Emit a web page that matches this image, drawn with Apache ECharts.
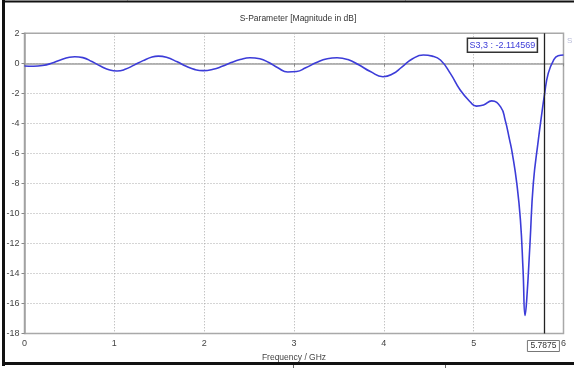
<!DOCTYPE html>
<html><head><meta charset="utf-8">
<script src="https://cdn.jsdelivr.net/npm/echarts@6/dist/echarts.min.js"></script>
<style>html,body{margin:0;padding:0;background:#fff;}#c{width:574px;height:368px;}</style>
</head><body><div id="c"></div>
<script>
// ---- data ----
const chartTitle = 'S-Parameter [Magnitude in dB]';
const xName = 'Frequency / GHz';
const seriesName = 'S3,3';
const freqGHz = [0.00,0.10,0.20,0.30,0.40,0.50,0.56,0.65,0.75,0.85,0.95,1.03,1.12,1.22,1.32,1.42,1.49,1.58,1.70,1.80,1.90,1.99,2.10,2.20,2.30,2.40,2.51,2.62,2.72,2.82,2.93,3.03,3.13,3.25,3.37,3.48,3.60,3.72,3.85,3.99,4.10,4.20,4.32,4.44,4.54,4.63,4.74,4.85,4.96,5.03,5.11,5.20,5.30,5.35,5.40,5.43,5.48,5.52,5.55,5.572,5.59,5.627,5.664,5.72,5.755,5.7875,5.83,5.89,5.94,6.00];
const s33dB   = [-0.18,-0.20,-0.15,0.00,0.22,0.40,0.44,0.38,0.12,-0.20,-0.45,-0.51,-0.40,-0.12,0.18,0.42,0.48,0.40,0.10,-0.20,-0.42,-0.49,-0.40,-0.20,0.05,0.25,0.37,0.30,0.05,-0.30,-0.58,-0.55,-0.30,0.05,0.30,0.37,0.25,-0.10,-0.55,-0.89,-0.70,-0.25,0.30,0.55,0.48,0.22,-0.67,-1.78,-2.56,-2.85,-2.78,-2.50,-2.90,-3.77,-5.10,-6.00,-8.00,-10.40,-13.80,-16.80,-15.80,-12.00,-8.00,-5.10,-3.50,-2.114569,-0.67,0.22,0.50,0.55];
const markerFreq = 5.7875;
const markerValue = -2.114569;
const xTicks = [0,1,2,3,4,5,6];
const yTicks = [2,0,-2,-4,-6,-8,-10,-12,-14,-16,-18];

const chart = echarts.init(document.getElementById('c'), null, {renderer:'canvas'});
const font = 'Liberation Sans';
const data = freqGHz.map((f,i)=>[f, s33dB[i]]);
chart.setOption({
  animation:false,
  backgroundColor:'#fff',
  title:{text:chartTitle,left:293,top:9,textAlign:'center',
    textStyle:{fontFamily:font,fontSize:8.5,fontWeight:'normal',color:'#333'}},
  grid:{left:24.5,right:10.5,top:33.3,bottom:34.5,show:true,borderColor:'#a8a8a8',borderWidth:1.5,backgroundColor:'transparent'},
  xAxis:{type:'value',min:xTicks[0],max:xTicks[xTicks.length-1],interval:1,
    name:xName,nameLocation:'middle',nameGap:20,
    nameTextStyle:{fontFamily:font,fontSize:8.5,color:'#444'},
    axisLine:{lineStyle:{color:'#a0a0a0',width:1.5}},
    axisTick:{show:true,length:3,lineStyle:{color:'#888'}},
    axisLabel:{fontFamily:font,fontSize:9,color:'#444',margin:6},
    splitLine:{show:true,lineStyle:{color:'#aaa',type:[1,2],width:1}}},
  yAxis:{type:'value',min:yTicks[yTicks.length-1],max:yTicks[0],interval:2,
    axisLine:{show:true,lineStyle:{color:'#a0a0a0',width:1.5}},
    axisTick:{show:true,length:3,lineStyle:{color:'#888'}},
    axisLabel:{fontFamily:font,fontSize:9,color:'#444',margin:5},
    splitLine:{show:true,lineStyle:{color:'#aaa',type:[1,2],width:1}}},
  series:[{name:seriesName,type:'line',data:data,showSymbol:false,smooth:0.5,
    lineStyle:{color:'#3c3cd8',width:1.6},
    markLine:{silent:true,symbol:'none',label:{show:false},
      lineStyle:{color:'#222',width:1.3,type:'solid'},
      data:[{xAxis:markerFreq}]}}]
});

const pTop = chart.convertToPixel({gridIndex:0},[markerFreq, yTicks[0]]);
const pBot = chart.convertToPixel({gridIndex:0},[markerFreq, yTicks[yTicks.length-1]]);
chart.setOption({graphic:[
  // frame
  {type:'rect',shape:{x:2,y:0,width:3,height:366},style:{fill:'#111'}},
  {type:'rect',shape:{x:2,y:0.5,width:572,height:2},style:{fill:'#111'}},
  {type:'rect',shape:{x:2,y:362,width:572,height:3},style:{fill:'#111'}},
  {type:'rect',shape:{x:127,y:0,width:1,height:1},style:{fill:'#666'}},
  {type:'rect',shape:{x:405,y:0,width:1,height:1},style:{fill:'#666'}},
  {type:'rect',shape:{x:293,y:365,width:1,height:3},style:{fill:'#666'}},
  {type:'rect',shape:{x:445,y:365,width:1,height:3},style:{fill:'#666'}},
  {type:'text',left:567,top:37,style:{text:'S',fill:'#b8bcd8',font:'8px '+font}},
  // marker value box
  {type:'rect',shape:{x:pTop[0]-77,y:pTop[1]+5,width:70,height:14},
    style:{fill:'#fff',stroke:'#333',lineWidth:1.5}},
  {type:'text',x:pTop[0]-42,y:pTop[1]+12,style:{text:seriesName+' : '+markerValue,
    fill:'#3c3cd8',font:'9px '+font,textAlign:'center',textVerticalAlign:'middle'}},
  // marker x box
  {type:'rect',shape:{x:pBot[0]-17,y:pBot[1]+7,width:32,height:11},
    style:{fill:'#fff',stroke:'#777',lineWidth:1}},
  {type:'text',x:pBot[0]-1,y:pBot[1]+12.5,style:{text:String(markerFreq),
    fill:'#333',font:'8.5px '+font,textAlign:'center',textVerticalAlign:'middle'}}
]});
</script></body></html>
